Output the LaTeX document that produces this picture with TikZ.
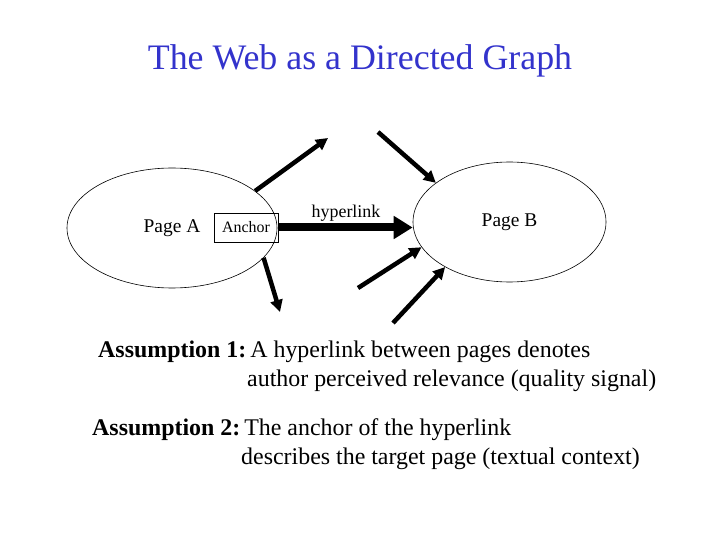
\documentclass[tikz,border=0pt]{standalone}
\usepackage{fontspec}
\setmainfont{Liberation Serif}
\usetikzlibrary{arrows.meta,shapes.geometric}
\definecolor{titleBlue}{RGB}{51,51,204}

\begin{document}
\begin{tikzpicture}[x=1bp,y=-1bp,
  page/.style={draw,ellipse,line width=0.6pt,inner sep=0pt,font=\fontsize{19.5}{22}\selectfont},
  anc/.style={draw,line width=0.6pt,minimum width=64bp,minimum height=29bp,inner sep=0pt,font=\fontsize{16}{18}\selectfont},
  link/.style={-{Triangle[length=12bp,width=12bp]},line width=4.5bp},
  hlink/.style={-{Triangle[length=19bp,width=22bp]},line width=8bp},
  txt/.style={anchor=base west,inner sep=0pt,font=\fontsize{24}{29}\selectfont},
]
\useasboundingbox (0,0) rectangle (720,540);

% title
\node[anchor=base,inner sep=0pt,text=titleBlue,font=\fontsize{36}{40}\selectfont] (title) at (360,70) {The Web as a Directed Graph};

% the two pages
\node[page,minimum width=210bp,minimum height=120bp] (pageA) at (172,228) {Page A};
\node[page,minimum width=193bp,minimum height=120bp] (pageB) at (509.5,222) {Page B};
\node[anc] (anchor) at (246,227.5) {Anchor};

% the hyperlink
\draw[hlink] (anchor.east) -- (anchor.east -| pageB.west);
\node[anchor=base,inner sep=0pt,font=\fontsize{18}{20}\selectfont] (hlabel) at (346,218) {hyperlink};

% other links out of A and into B
\coordinate (outA1) at (328,138);
\coordinate (outA2) at (280,312);
\coordinate (inB1) at (378,132);
\coordinate (inB2) at (358,288);
\coordinate (inB3) at (393,323);
\draw[link] (pageA.24) -- (outA1);
\draw[link] (pageA.-18) -- (outA2);
\draw[link] (inB1) -- (pageB.152);
\draw[link] (inB2) -- (pageB.-164);
\draw[link] (inB3) -- (pageB.-145);

% assumptions
\node[txt] (as1a) at (98,357) {\textbf{Assumption 1:}\hspace{4bp}A hyperlink between pages denotes};
\node[txt] (as1b) at (247,386) {author perceived relevance (quality signal)};
\node[txt] (as2a) at (92,435) {\textbf{Assumption 2:}\hspace{4bp}The anchor of the hyperlink};
\node[txt] (as2b) at (241,464) {describes the target page (textual context)};
\end{tikzpicture}
\end{document}
